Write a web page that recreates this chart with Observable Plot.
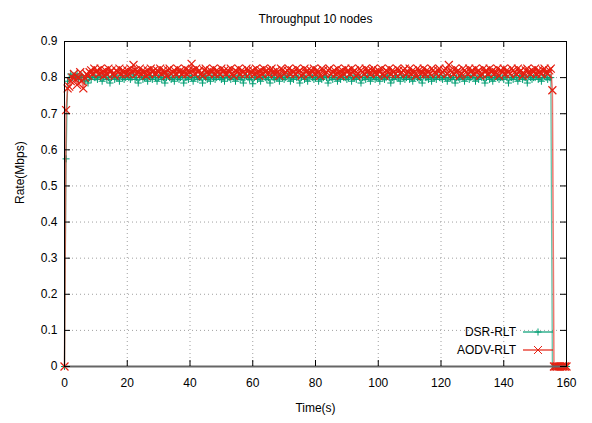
<!DOCTYPE html>
<html><head><meta charset="utf-8">
<script src="https://cdn.jsdelivr.net/npm/d3@7"></script>
<script src="https://cdn.jsdelivr.net/npm/@observablehq/plot@0.6"></script>
<style>body{margin:0;background:#fff}#chart{width:592px;height:423px}</style>
</head><body><div id="chart"></div><script>
const title = "Throughput 10 nodes";
const xLabel = "Time(s)";
const yLabel = "Rate(Mbps)";
const seriesNames = ["DSR-RLT", "AODV-RLT"];
const seriesColors = ["#009e73", "#e51e10"];
const timeStep = 0.5; // seconds between samples, starting at t = 0
const xTicks = [0, 20, 40, 60, 80, 100, 120, 140, 160];
const yTicks = [0, 0.1, 0.2, 0.3, 0.4, 0.5, 0.6, 0.7, 0.8, 0.9];

// DSR-RLT throughput (Mbps), one value per 0.5 s
const dsrRate = [
0,.575,.79,.80,.81,.80,.805,.80,.81,.795,.80,.805,.80,.79,.80,.785,.80,.795,.805,.80,
.80,.795,.805,.80,.79,.80,.805,.795,.80,.785,.80,.805,.795,.80,.80,.79,.805,.80,.795,.80,
.805,.80,.795,.80,.81,.795,.80,.785,.80,.805,.795,.80,.80,.79,.805,.80,.795,.805,.80,.79,
.80,.805,.795,.80,.785,.80,.805,.80,.795,.80,.79,.805,.80,.795,.80,.805,.785,.80,.80,.795,
.805,.80,.79,.80,.805,.795,.80,.80,.785,.805,.80,.795,.80,.79,.805,.80,.795,.80,.805,.80,
.795,.80,.79,.805,.80,.80,.795,.805,.80,.79,.80,.805,.795,.80,.785,.80,.805,.80,.795,.80,
.783,.80,.805,.795,.80,.79,.80,.805,.80,.795,.80,.785,.805,.80,.795,.80,.80,.79,.805,.80,
.795,.80,.805,.80,.79,.80,.795,.805,.80,.80,.785,.80,.805,.795,.80,.79,.80,.805,.80,.795,
.80,.805,.79,.80,.795,.80,.805,.80,.785,.80,.80,.795,.805,.80,.79,.80,.795,.805,.80,.80,
.795,.80,.805,.79,.80,.80,.795,.805,.80,.785,.80,.80,.795,.805,.80,.79,.80,.805,.795,.80,
.80,.79,.805,.80,.795,.80,.805,.80,.785,.80,.795,.805,.80,.80,.79,.805,.80,.795,.80,.805,
.795,.80,.79,.80,.805,.80,.795,.80,.785,.805,.80,.80,.795,.805,.79,.80,.80,.795,.805,.80,
.80,.795,.805,.80,.79,.80,.80,.795,.805,.785,.80,.80,.795,.805,.80,.79,.80,.805,.795,.80,
.805,.80,.79,.80,.795,.805,.80,.80,.785,.80,.805,.795,.80,.79,.80,.805,.80,.795,.80,.80,
.795,.805,.80,.785,.80,.80,.795,.805,.80,.79,.80,.805,.795,.80,.80,.785,.805,.80,.795,.80,
.80,.805,.795,.80,.79,.80,.805,.80,.795,.80,.80,
0,0,0,0,0,0,0,0,0,0
];

// AODV-RLT throughput (Mbps), one value per 0.5 s
const aodvRate = [
0,.71,.77,.775,.79,.80,.81,.795,.78,.80,.815,.79,.77,.80,.81,.805,.815,.82,.81,.825,
.815,.82,.81,.825,.815,.805,.82,.81,.825,.815,.82,.81,.805,.82,.815,.825,.81,.82,.815,.81,
.82,.81,.825,.815,.835,.82,.81,.815,.825,.81,.82,.815,.805,.82,.81,.825,.815,.82,.81,.82,
.815,.825,.81,.82,.815,.805,.82,.825,.81,.815,.82,.81,.825,.815,.82,.81,.815,.825,.81,.82,
.815,.838,.82,.81,.825,.815,.82,.81,.805,.82,.825,.815,.81,.82,.815,.825,.81,.82,.815,.81,
.825,.815,.82,.81,.82,.815,.825,.81,.805,.82,.815,.825,.81,.82,.815,.81,.825,.82,.81,.815,
.82,.81,.825,.815,.805,.82,.81,.825,.815,.82,.81,.82,.825,.815,.81,.82,.815,.805,.825,.82,
.81,.815,.82,.825,.81,.82,.815,.81,.825,.815,.82,.805,.81,.825,.815,.82,.81,.82,.815,.825,
.81,.82,.815,.805,.825,.82,.81,.815,.82,.825,.81,.815,.82,.81,.825,.815,.805,.82,.81,.825,
.815,.82,.81,.825,.815,.82,.805,.81,.825,.82,.815,.81,.825,.815,.82,.81,.82,.825,.815,.81,
.82,.815,.825,.81,.805,.82,.815,.825,.81,.82,.815,.81,.825,.82,.81,.815,.82,.825,.81,.815,
.825,.81,.82,.815,.805,.825,.82,.81,.815,.825,.81,.82,.815,.81,.825,.82,.815,.81,.82,.825,
.81,.815,.82,.825,.81,.835,.82,.815,.81,.825,.815,.82,.805,.81,.825,.82,.815,.81,.825,.815,
.82,.81,.825,.815,.82,.805,.81,.825,.815,.82,.81,.825,.815,.82,.81,.815,.825,.805,.82,.815,
.825,.81,.82,.815,.81,.825,.82,.815,.81,.825,.815,.82,.805,.81,.82,.825,.815,.81,.82,.815,
.825,.81,.82,.815,.81,.82,.825,.815,.81,.82,.825,
.765,0,0,0,0,0,0,0,0,0
];

const toRows = (vals, name) => vals.map((v, i) => ({t: i * timeStep, v, name}));
const dsr = toRows(dsrRate, seriesNames[0]);
const aodv = toRows(aodvRate, seriesNames[1]);

const font = "'Liberation Sans', Arial, sans-serif";
const W = 592, H = 423, mT = 41, mB = 57, mL = 64, mR = 26;
const fw = W - mL - mR, fh = H - mT - mB;
const grid = {stroke: "#a0a0a0", strokeOpacity: 1, strokeDasharray: "1,3"};
const plusR = 2.4, timesR = 3.7;
const yFmt = d => d === 0 ? "0" : d3.format(".1f")(d);

const chart = Plot.plot({
  width: W, height: H,
  marginTop: mT, marginBottom: mB, marginLeft: mL, marginRight: mR,
  style: {fontFamily: font, fontSize: "12px", color: "#000", background: "#fff"},
  x: {domain: [0, 160], axis: null},
  y: {domain: [0, 0.9], axis: null},
  marks: [
    Plot.gridX(xTicks.slice(1, -1), grid),
    Plot.gridY(yTicks.slice(1, -1), grid),
    Plot.line(dsr, {x: "t", y: "v", stroke: seriesColors[0], strokeWidth: 1.3, strokeOpacity: 0.6}),
    Plot.dot(dsr, {x: "t", y: "v", symbol: "plus", r: plusR, stroke: seriesColors[0], strokeWidth: 1}),
    Plot.line(aodv, {x: "t", y: "v", stroke: seriesColors[1], strokeWidth: 1.5, strokeOpacity: 0.6}),
    Plot.dot(aodv, {x: "t", y: "v", symbol: "times", r: timesR, stroke: seriesColors[1], strokeWidth: 1.2}),
    Plot.frame({stroke: "#000", strokeWidth: 1}),
    Plot.ruleY([0], {stroke: "#666", strokeWidth: 2}),
    Plot.tickX(xTicks, {x: d => d, insetTop: fh - 6, stroke: "#000"}),
    Plot.tickX(xTicks, {x: d => d, insetBottom: fh - 6, stroke: "#000"}),
    Plot.tickY(yTicks, {y: d => d, insetRight: fw - 6, stroke: "#000"}),
    Plot.tickY(yTicks, {y: d => d, insetLeft: fw - 6, stroke: "#000"}),
    Plot.axisX(xTicks, {tickSize: 0, tickPadding: 12, label: null, fontSize: 12}),
    Plot.axisY(yTicks, {tickSize: 0, tickPadding: 7, label: null, fontSize: 12, tickFormat: yFmt}),
    Plot.text([title], {frameAnchor: "top", dy: -27, fontSize: 12}),
    Plot.text([xLabel], {frameAnchor: "bottom", dy: 45, fontSize: 12}),
    Plot.text([yLabel], {frameAnchor: "left", dx: -44, rotate: -90, fontSize: 12})
  ]
});
document.getElementById("chart").append(chart);

// in-frame key, bottom right (gnuplot style)
const svg = d3.select(chart.tagName === "svg" ? chart : chart.querySelector("svg"));
const key = svg.append("g").attr("font-family", font).attr("font-size", 12);
const symbols = [d3.symbolPlus, d3.symbolTimes];
const symR = [plusR, timesR];
seriesNames.forEach((name, i) => {
  const y = H - mB - 34 + i * 18;
  key.append("text").attr("x", 516).attr("y", y).attr("dy", "0.35em")
    .attr("text-anchor", "end").attr("fill", "#000").text(name);
  key.append("line").attr("x1", 523).attr("x2", 553).attr("y1", y).attr("y2", y)
    .attr("stroke", seriesColors[i]).attr("stroke-width", 1.5).attr("stroke-opacity", 0.8);
  key.append("path").attr("transform", `translate(538,${y})`)
    .attr("d", d3.symbol(symbols[i], Math.PI * symR[i] * symR[i])())
    .attr("fill", "none").attr("stroke", seriesColors[i]);
});
</script></body></html>
